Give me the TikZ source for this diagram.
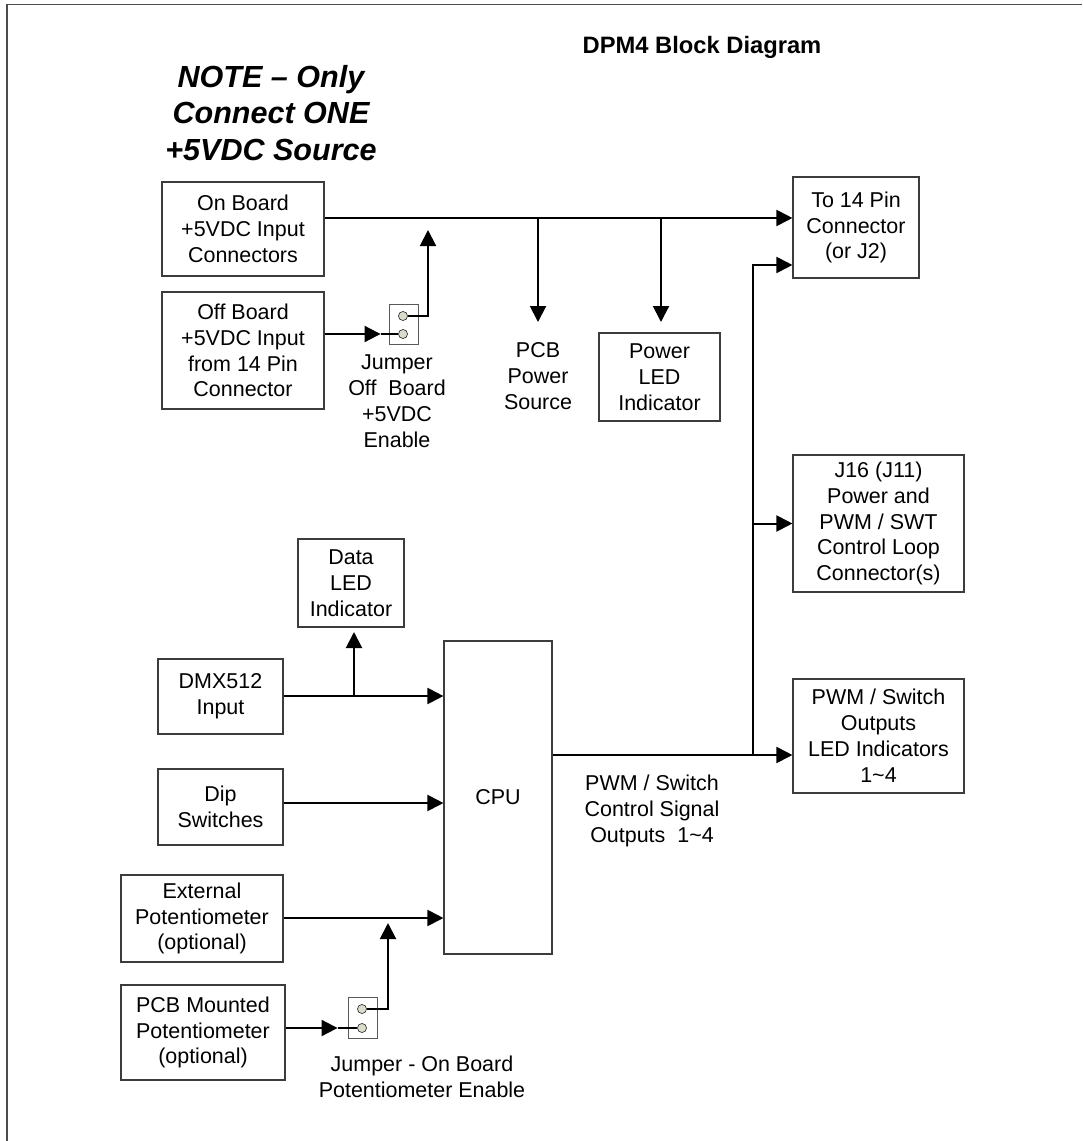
\documentclass[tikz,border=0pt]{standalone}
\usepackage{fontspec}
\setmainfont{Liberation Sans}
\usetikzlibrary{arrows.meta,fit,calc}
\definecolor{pinfill}{RGB}{218,221,204}
\definecolor{boxline}{RGB}{60,60,60}
\newcommand{\blkbox}[4]{%
  \node[blk, fit={(#2)(#3)}] (#1) {};
  \node[lbl] (#1-txt) at (#1.center) {#4};}
\begin{document}
\begin{tikzpicture}[x=0.75pt,y=-0.75pt,
  blk/.style={draw=boxline, line width=0.85pt, inner sep=0pt},
  lbl/.style={align=center, inner sep=0pt, font=\fontsize{16.1}{19.4}\selectfont},
  jbox/.style={draw=black!65, line width=0.6pt, inner sep=0pt},
  pin/.style={circle, draw=black!80, fill=pinfill, line width=0.5pt, minimum size=6.8pt, inner sep=0pt},
  arr/.style={line width=1.5pt, -{Triangle[length=12pt,width=12pt]}},
  thinwire/.style={line width=1pt},
  frame/.style={draw=black!70, line width=1.2pt}]
\useasboundingbox (0,0) rectangle (1082,1141);
\draw[frame] (7,1141) -- (7,4.5) -- (1082,4.5);

% titles
\node[inner sep=0pt, font=\fontsize{17.8}{21}\selectfont\bfseries] (ttl) at (702,47) {DPM4 Block Diagram};
\node[inner sep=0pt, align=center, font=\fontsize{22.9}{27.6}\selectfont\bfseries\itshape] (note) at (271,113) {NOTE – Only\\Connect ONE\\+5VDC Source};

% boxes
\blkbox{onboard}{162,182}{324,276}{On Board\\+5VDC Input\\Connectors}
\blkbox{offboard}{162,292}{324,409}{Off Board\\+5VDC Input\\from 14 Pin\\Connector}
\blkbox{to14}{793,177}{919,278}{To 14 Pin\\Connector\\(or J2)}
\blkbox{powerled}{599,333}{720,421}{Power\\LED\\Indicator}
\blkbox{dataled}{298,539}{404,627}{Data\\LED\\Indicator}
\blkbox{dmx}{158,659}{283,734}{DMX512\\Input}
\blkbox{dip}{158,769}{283,845}{Dip\\Switches}
\blkbox{external}{121,875}{283,962}{External\\Potentiometer\\(optional)}
\blkbox{pcbmount}{121,985}{285,1080}{PCB Mounted\\Potentiometer\\(optional)}
\blkbox{cpu}{444,641}{552,954}{CPU}
\blkbox{j16}{793,455}{964,592}{J16 (J11)\\Power and\\PWM / SWT\\Control Loop\\Connector(s)}
\blkbox{pwmbox}{793,679}{964,793}{PWM / Switch\\Outputs\\LED Indicators\\1\textasciitilde 4}

% labels
\node[lbl] (pcbpower) at (538,376) {PCB\\Power\\Source};
\node[lbl] (j1lbl) at (397,401.5) {Jumper\\Off\ \ Board\\+5VDC\\Enable};
\node[lbl] (pwmlbl) at (652,811) {PWM / Switch\\Control Signal\\Outputs\ \ 1\textasciitilde 4};
\node[lbl] (j2lbl) at (422,1076.5) {Jumper - On Board\\Potentiometer Enable};

% jumpers
\node[jbox, fit={(389,304)(418,344)}] (j1) {};
\node[pin] (j1a) at (403,316) {};
\node[pin] (j1b) at (403,334) {};
\node[jbox, fit={(348,997)(377,1038)}] (j2) {};
\node[pin] (j2a) at (362,1009) {};
\node[pin] (j2b) at (362,1028) {};

% coordinates
\coordinate (busA) at (538,218);
\coordinate (busB) at (661,218);
\coordinate (pcbtip) at (538,322);
\coordinate (up1) at (428,230);
\coordinate (up2) at (388,923);
\coordinate (split) at (753,755);
\coordinate (dmxsplit) at (354,696);

% power bus
\draw[arr] (onboard.east |- 0,218) -- (to14.west |- 0,218);
\draw[arr] (busA) -- (pcbtip);
\draw[arr] (busB) -- (busB |- 0,322);
\draw[arr] (offboard.east |- j1b) -- ++(56,0) coordinate (t1);
\draw[thinwire] (t1) -- (j1b.west);
\draw[arr] (j1a.east) -| (up1);

% outputs
\draw[arr] (cpu.east |- split) -- (pwmbox.west |- split);
\draw[arr] (split) |- (to14.west |- 0,265);
\draw[arr] (split |- j16.west) -- (j16.west);

% inputs
\draw[arr] (dmx.east |- dmxsplit) -- (cpu.west |- dmxsplit);
\draw[arr] (dmxsplit) -- (dmxsplit |- 0,632);
\draw[arr] (dip.east |- 0,803) -- (cpu.west |- 0,803);
\draw[arr] (external.east |- 0,918) -- (cpu.west |- 0,918);
\draw[arr] (pcbmount.east |- j2b) -- ++(52,0) coordinate (t2);
\draw[thinwire] (t2) -- (j2b.west);
\draw[arr] (j2a.east) -| (up2);
\end{tikzpicture}
\end{document}
